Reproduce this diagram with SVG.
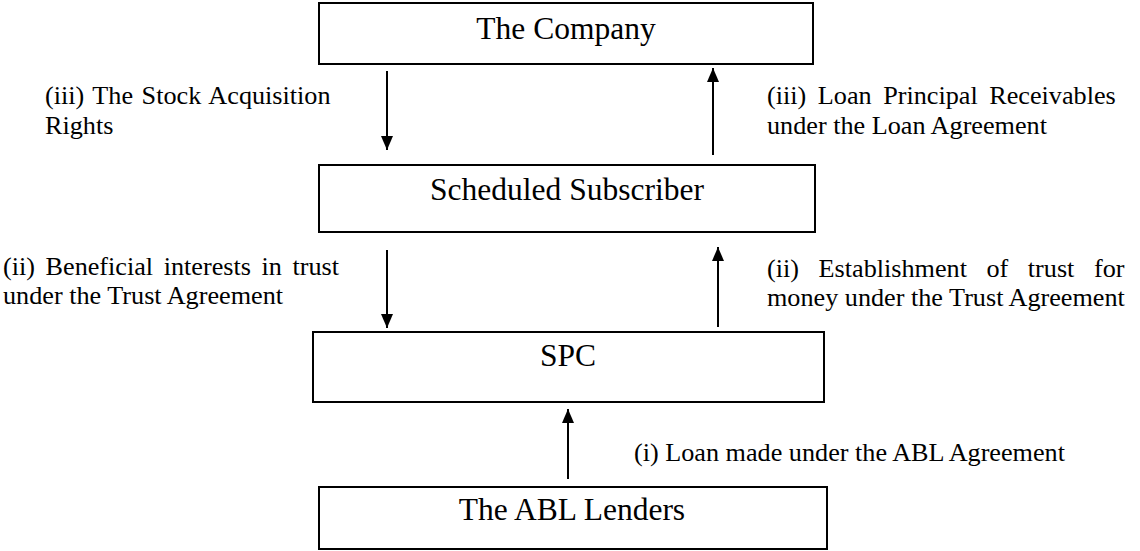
<svg xmlns="http://www.w3.org/2000/svg" width="1140" height="551" viewBox="0 0 1140 551">
<style>
.box{fill:#fff;stroke:#000;stroke-width:2}
.title{font-family:"Liberation Serif","Times New Roman",serif;font-size:31.5px;fill:#000;text-anchor:middle}
.lbl{font-family:"Liberation Serif","Times New Roman",serif;font-size:26.2px;fill:#000}
.arr{stroke:#000;stroke-width:2;fill:none;marker-end:url(#ah)}
</style>
<defs>
<marker id="ah" viewBox="0 0 14 12" refX="14" refY="6" markerWidth="14" markerHeight="12" markerUnits="userSpaceOnUse" orient="auto">
<path d="M0,0 L14,6 L0,12 z" fill="#000"/>
</marker>
</defs>
<rect width="1140" height="551" fill="#fff"/>
<g id="company"><rect class="box" x="319" y="3" width="494" height="61"/><text class="title" x="566" y="39">The Company</text></g>
<g id="subscriber"><rect class="box" x="319" y="165" width="496" height="67"/><text class="title" x="567" y="200">Scheduled Subscriber</text></g>
<g id="spc"><rect class="box" x="313" y="332" width="511" height="70"/><text class="title" x="568" y="366">SPC</text></g>
<g id="abl"><rect class="box" x="319" y="487" width="508" height="62"/><text class="title" x="572" y="520">The ABL Lenders</text></g>
<g id="connectors">
<line class="arr" x1="387" y1="71" x2="387" y2="150"/>
<line class="arr" x1="713" y1="155" x2="713" y2="68"/>
<line class="arr" x1="387" y1="250" x2="387" y2="328"/>
<line class="arr" x1="718" y1="327" x2="718" y2="247"/>
<line class="arr" x1="568" y1="479" x2="568" y2="409"/>
</g>
<g id="labels">
<text class="lbl" x="45" y="104" word-spacing="2">(iii) The Stock Acquisition</text>
<text class="lbl" x="45" y="134">Rights</text>
<text class="lbl" x="767" y="104" word-spacing="5">(iii) Loan Principal Receivables</text>
<text class="lbl" x="767" y="134">under the Loan Agreement</text>
<text class="lbl" x="3" y="275" word-spacing="4">(ii) Beneficial interests in trust</text>
<text class="lbl" x="3" y="304">under the Trust Agreement</text>
<text class="lbl" x="767" y="277" word-spacing="13">(ii) Establishment of trust for</text>
<text class="lbl" x="767" y="306">money under the Trust Agreement</text>
<text class="lbl" x="634" y="461">(i) Loan made under the ABL Agreement</text>
</g>
</svg>
